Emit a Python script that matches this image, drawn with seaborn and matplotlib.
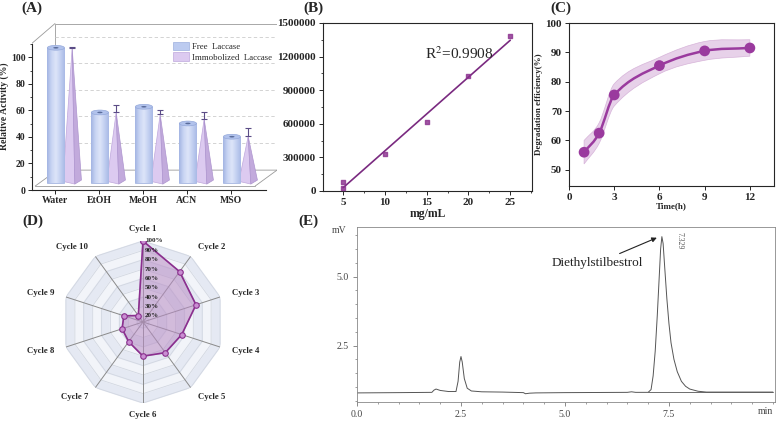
import numpy as np
import matplotlib
matplotlib.use("Agg")
import matplotlib.pyplot as plt
import seaborn as sns
from matplotlib.patches import Polygon, Ellipse, PathPatch, Patch
from matplotlib.path import Path
from matplotlib.colors import LinearSegmentedColormap
from matplotlib.ticker import MultipleLocator, FixedLocator

# ---- data ----
# (A) solvent tolerance
solvents = ["Water", "EtOH", "MeOH", "ACN", "MSO"]
free_act = [107.3, 58.5, 62.8, 50.2, 40.2]
immob_act = [107.0, 58.5, 57.0, 53.5, 40.5]
immob_err = [0.6, 5.3, 3.2, 5.0, 6.0]

# (B) calibration curve
conc = [5, 5, 10, 15, 20, 25]
area = [83000, 30000, 328000, 617000, 1029000, 1380000]

# (C) degradation vs time
time_h = [1, 2, 3, 6, 9, 12]
degr = [56.0, 62.5, 75.5, 85.5, 90.5, 91.5]
degr_err = [4.0, 3.5, 3.8, 2.8, 3.2, 2.8]

# (D) reusability
cycles = ["Cycle 1", "Cycle 2", "Cycle 3", "Cycle 4", "Cycle 5",
          "Cycle 6", "Cycle 7", "Cycle 8", "Cycle 9", "Cycle 10"]
retained = [100, 80, 73, 57, 54, 50, 39.5, 37, 35, 22]
ring_levels = [20, 30, 40, 50, 60, 70, 80, 90, 100]

# (E) HPLC chromatogram
rt_min = [0.0, 1.0, 1.8, 1.85, 1.9, 2.0, 2.2, 2.38, 2.43, 2.47, 2.5, 2.53,
          2.58, 2.65, 2.75, 3.0, 3.5, 4.0, 4.05, 4.15, 4.3, 5.0, 6.5, 6.6,
          6.7, 7.0, 7.07, 7.12, 7.17, 7.22, 7.26, 7.30, 7.33, 7.36, 7.40,
          7.45, 7.50, 7.55, 7.62, 7.70, 7.80, 7.90, 8.0, 8.2, 8.4, 10.0]
signal_mv = [0.78, 0.79, 0.80, 0.88, 0.92, 0.87, 0.83, 0.83, 1.2, 1.9, 2.1, 1.9,
             1.3, 0.95, 0.85, 0.82, 0.81, 0.79, 0.75, 0.77, 0.78, 0.79, 0.80, 0.82,
             0.80, 0.80, 0.9, 1.4, 2.3, 3.6, 4.8, 6.0, 6.45, 6.2, 5.3,
             4.2, 3.3, 2.6, 2.0, 1.55, 1.2, 1.02, 0.92, 0.84, 0.81, 0.81]

sns.set_style("ticks")
plt.rcParams['font.family'] = ['Liberation Serif', 'DejaVu Serif']
plt.rcParams['mathtext.fontset'] = 'stix'

purple = '#8A2F8E'
fig = plt.figure(figsize=(7.76, 4.24), dpi=100)


def smooth_path(xs, ys):
    xs = np.asarray(xs, float)
    ys = np.asarray(ys, float)
    m = np.empty(len(xs))
    m[1:-1] = (ys[2:] - ys[:-2]) / (xs[2:] - xs[:-2])
    m[0] = (ys[1] - ys[0]) / (xs[1] - xs[0])
    m[-1] = (ys[-1] - ys[-2]) / (xs[-1] - xs[-2])
    verts = [(xs[0], ys[0])]
    for i in range(len(xs) - 1):
        h = xs[i + 1] - xs[i]
        verts += [(xs[i] + h / 3, ys[i] + m[i] * h / 3),
                  (xs[i + 1] - h / 3, ys[i + 1] - m[i + 1] * h / 3),
                  (xs[i + 1], ys[i + 1])]
    return verts


def bold_ticks(ax, size):
    for lab in ax.get_xticklabels() + ax.get_yticklabels():
        lab.set_fontweight('bold')
        lab.set_fontsize(size)


""" (A) pseudo-3D bar chart """
axA = fig.add_axes([31.7 / 776, 1 - 190 / 424, 245.3 / 776, 167 / 424])
axA.set_xlim(-0.53, 5.045)
axA.set_ylim(0, 126)
# back wall, floor and edges
wall = dict(color='#9a9a9a', lw=0.6, zorder=1)
axA.plot([0, 0, 5.045, 5.045], [15, 125.6, 125.6, 15], **wall)
axA.plot([-0.53, 0], [110.5, 125.6], **wall)
axA.plot([-0.45, 0.05, 5.045], [3, 15, 15], **wall)
axA.plot([4.55, 5.045], [3, 15], **wall)
axA.plot([-0.45, 4.55], [3, 3], **wall)
for lev in [35.5, 55.5, 75.5, 95.5, 115.5]:
    axA.plot([0, 5.045], [lev, lev], color='#cccccc', lw=0.6, ls=(0, (4, 3)), zorder=1)

cyl_cmap = LinearSegmentedColormap.from_list(
    'cyl', ['#A3B5E3', '#C9D5F3', '#DDE5F9', '#C3D0F1', '#A9BAE6'])
grad = np.linspace(0, 1, 64).reshape(1, -1)
for i, (fv, iv, er) in enumerate(zip(free_act, immob_act, immob_err)):
    xc = i + 0.02
    bar = axA.bar(xc, fv - 5, bottom=5, width=0.39, color='#BCCBF0',
                  edgecolor='#9DB0DE', lw=0.5, zorder=3)[0]
    im = axA.imshow(grad, extent=[xc - 0.195, xc + 0.195, 5, fv], aspect='auto',
                    cmap=cyl_cmap, vmin=0, vmax=1, zorder=3.5)
    im.set_clip_path(bar)
    axA.add_patch(Ellipse((xc, fv), 0.39, 3.6, fc='#B1C2EC', ec='#95A9DA', lw=0.5, zorder=4))
    axA.add_patch(Ellipse((xc, fv), 0.12, 1.2, fc='#5A6C9A', ec='none', zorder=4.5))
    xp = i + 0.39
    axA.add_patch(Polygon([(xp - 0.21, 6.5), (xp + 0.06, 4.5), (xp, iv)],
                          fc='#DCCAF0', ec='#BFA8DC', lw=0.5, zorder=3))
    axA.add_patch(Polygon([(xp + 0.06, 4.5), (xp + 0.21, 7.5), (xp, iv)],
                          fc='#C2AADC', ec='#AE95CF', lw=0.5, zorder=3))
    axA.errorbar(xp, iv, yerr=[[0], [er]], color='#5B4C86', lw=0.8,
                 capsize=2.5, capthick=0.8, zorder=5)

axA.set_xticks(range(len(solvents)))
axA.set_xticklabels(solvents)
axA.set_yticks([0, 20, 40, 60, 80, 100])
axA.yaxis.set_minor_locator(FixedLocator([10, 30, 50, 70, 90, 110]))
axA.spines['left'].set_bounds(0, 110.5)
axA.spines['bottom'].set_bounds(-0.53, 4.8)
sns.despine(ax=axA, top=True, right=True)
axA.tick_params(length=3, width=0.7, pad=1.5)
axA.tick_params(which='minor', length=1.5, width=0.6)
bold_ticks(axA, 7)
axA.set_ylabel('Relative Activity (%)', fontsize=7, fontweight='bold', labelpad=1)
axA.legend([Patch(fc='#BCCBF0', ec='#9DB0DE', lw=0.5), Patch(fc='#DCCAF0', ec='#BFA8DC', lw=0.5)],
           ['Free  Laccase', 'Immobolized  Laccase'], loc='upper right',
           bbox_to_anchor=(0.995, 0.91), frameon=False, fontsize=6.3,
           handlelength=1.8, handleheight=1.2, labelspacing=0.15,
           handletextpad=0.4, borderaxespad=0)

""" (B) calibration curve """
axB = fig.add_axes([323 / 776, 1 - 191 / 424, 209 / 776, 168 / 424])
sns.regplot(x=conc, y=area, ax=axB, ci=None, truncate=True, marker='s',
            scatter_kws=dict(s=12, color=purple, zorder=3),
            line_kws=dict(color='#7A2A80', lw=1.2))
axB.set_xlim(2.6, 27.6)
axB.set_ylim(0, 1500000)
axB.set_xticks([5, 10, 15, 20, 25])
axB.set_yticks([0, 300000, 600000, 900000, 1200000, 1500000])
axB.set_yticklabels(['0', '300000', '600000', '900000', '1200000', '1500000'])
axB.yaxis.set_minor_locator(MultipleLocator(150000))
axB.xaxis.set_minor_locator(MultipleLocator(2.5))
axB.tick_params(length=3, width=0.7, pad=2)
axB.tick_params(which='minor', length=1.5, width=0.6)
for s in axB.spines.values():
    s.set_linewidth(0.8)
bold_ticks(axB, 8)
axB.set_xlabel('mg/mL', fontsize=8.5, fontweight='bold', labelpad=1)
axB.text(14.8, 1230000, r'R$^2$=0.9908', fontsize=11, va='center')

""" (C) degradation efficiency """
axC = fig.add_axes([569 / 776, 1 - 186 / 424, 205 / 776, 163 / 424])
band = smooth_path(time_h, np.array(degr) + np.array(degr_err))
low = smooth_path(time_h, np.array(degr) - np.array(degr_err))[::-1]
codes = [Path.MOVETO] + [Path.CURVE4] * (len(band) - 1) + [Path.LINETO] + \
        [Path.CURVE4] * (len(low) - 1) + [Path.CLOSEPOLY]
axC.add_patch(PathPatch(Path(band + low + [band[0]], codes), fc='#E2C6E4',
                        ec='#D0A8D3', lw=0.5, alpha=0.8, zorder=1))
line = smooth_path(time_h, degr)
axC.add_patch(PathPatch(Path(line, [Path.MOVETO] + [Path.CURVE4] * (len(line) - 1)),
                        fc='none', ec='#9A3A9E', lw=1.8, zorder=2))
sns.scatterplot(x=time_h, y=degr, ax=axC, s=60, color='#9A3A9E', edgecolor='none', zorder=3)
axC.set_xlim(0, 13.6)
axC.set_ylim(44.5, 100)
axC.set_xticks([0, 3, 6, 9, 12])
axC.set_yticks([50, 60, 70, 80, 90, 100])
axC.tick_params(length=3, width=0.7, pad=2)
for s in axC.spines.values():
    s.set_linewidth(0.8)
bold_ticks(axC, 8)
axC.set_xlabel('Time(h)', fontsize=6.5, fontweight='bold', labelpad=0)
axC.set_ylabel('Degradation efficiency(%)', fontsize=6.5, fontweight='bold', labelpad=2)

""" (D) radar chart """
axD = fig.add_axes([62 / 776, 1 - 403 / 424, 162 / 776, 162 / 424], projection='polar')
axD.set_theta_zero_location('N')
axD.set_theta_direction(-1)
rmin = 13.5
axD.set_ylim(rmin, 100)
ang = np.linspace(0, 2 * np.pi, len(cycles), endpoint=False)
ring_th = np.append(ang, ang[0])
for k, lev in enumerate(ring_levels[::-1]):
    fc = '#E5E9F3' if k % 2 == 0 else '#F2F4F9'
    axD.fill(ring_th, [lev] * len(ring_th), color=fc, zorder=0)
    axD.plot(ring_th, [lev] * len(ring_th), color='#D2D7E1', lw=0.6, zorder=0.5)
axD.fill(ring_th, [rmin + 0.01] * len(ring_th), color='#F2F4F9', zorder=0)
for a in ang:
    axD.plot([a, a], [rmin, 100], color='#8a8a8a', lw=0.7, zorder=1)
vals = retained + [retained[0]]
axD.fill(ring_th, vals, color='#B88CC4', alpha=0.55, zorder=2)
axD.plot(ring_th, vals, color='#8A2F8E', lw=1.2, marker='o', ms=4,
         mfc='#C98ED2', mec='#8A2F8E', mew=0.8, zorder=3)
axD.set_xticks([])
axD.set_yticks([])
axD.grid(False)
axD.spines['polar'].set_visible(False)
axD.set_facecolor('none')
for lev in ring_levels:
    axD.annotate(f'{lev}%', (0, lev), xytext=(1.5, 0), textcoords='offset points',
                 fontsize=5, fontweight='bold', va='center', ha='left', zorder=4)
for a, name in zip(ang, cycles):
    s = np.sin(a)
    ha = 'center' if abs(s) < 0.1 else ('left' if s > 0 else 'right')
    axD.text(a, 113, name, fontsize=6.3, fontweight='bold', ha=ha, va='center',
             clip_on=False)

""" (E) chromatogram """
axE = fig.add_axes([357 / 776, 1 - 402 / 424, 418 / 776, 175 / 424])
sns.lineplot(x=rt_min, y=signal_mv, ax=axE, color='#555555', lw=0.7,
             estimator=None, sort=False)
axE.plot([7.0, 10.0], [0.80, 0.80], color='#555555', lw=0.6)
axE.set_xlim(0, 10.05)
axE.set_ylim(0.45, 6.8)
axE.set_xticks([0, 2.5, 5.0, 7.5])
axE.set_xticklabels(['0.0', '2.5', '5.0', '7.5'])
axE.set_yticks([2.5, 5.0])
axE.set_yticklabels(['2.5', '5.0'])
axE.xaxis.set_minor_locator(MultipleLocator(0.5))
axE.yaxis.set_minor_locator(MultipleLocator(0.5))
axE.tick_params(length=3, width=0.6, color='#777777', labelsize=7, labelcolor='#444444', pad=3)
axE.tick_params(which='minor', length=1.5, width=0.5, color='#777777')
for s in axE.spines.values():
    s.set_linewidth(0.6)
    s.set_color('#888888')
axE.text(-0.25, 6.68, 'mV', fontsize=7, color='#444444', ha='right', va='center')
axE.text(10.0, -0.03, 'min', fontsize=7, color='#444444', ha='right', va='top',
         transform=axE.get_xaxis_transform())
axE.annotate('Diethylstilbestrol', xy=(7.24, 6.43), xytext=(4.69, 5.5),
             fontsize=9.5, color='#222222', va='center',
             arrowprops=dict(arrowstyle='-|>', color='#222222', lw=0.8,
                             mutation_scale=7, shrinkA=62, shrinkB=1))
axE.text(7.75, 6.3, '7.329', fontsize=5.5, rotation=270, color='#555555',
         ha='center', va='center')

# panel letters
for lab, x, y in [('(A)', 21, 8), ('(B)', 303, 8), ('(C)', 550, 8),
                  ('(D)', 22, 221), ('(E)', 298, 221)]:
    fig.text(x / 776, 1 - y / 424, lab, fontsize=11, fontweight='bold', va='center')

fig.savefig('out.png', dpi=100)
